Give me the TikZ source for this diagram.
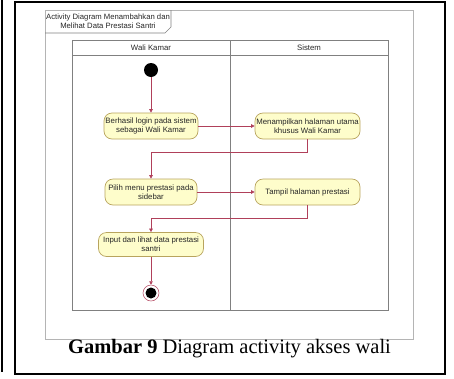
\documentclass[tikz,border=0pt]{standalone}
\usepackage{fontspec}
\setmainfont{Liberation Serif}
\newfontfamily\diagfont{Liberation Sans}
\usetikzlibrary{arrows.meta}

\definecolor{actfill}{HTML}{FEFDCB}
\definecolor{actline}{HTML}{B8A45E}
\definecolor{flowred}{HTML}{B0405A}
\definecolor{laneline}{HTML}{808080}
\definecolor{frameline}{HTML}{B4B4B4}

\tikzset{
  action/.style={draw=actline, fill=actfill, rounded corners=8pt, line width=0.7pt,
    minimum height=26pt, inner sep=1pt, align=center, text=black!85,
    font=\diagfont\fontsize{7.8}{8.6}\selectfont},
  flow/.style={draw=flowred, line width=0.6pt, -{Triangle[length=3.5pt,width=3.5pt]}},
  lane/.style={draw=laneline, line width=0.6pt},
  lanehead/.style={font=\diagfont\fontsize{7.8}{9}\selectfont, text=black!85},
  startnode/.style={circle, fill=black, minimum size=14pt, inner sep=0pt},
}

\begin{document}
\begin{tikzpicture}[x=1pt,y=-1pt]
  \useasboundingbox (0,0) rectangle (454,378);

  % page rules
  \draw[line width=1.8pt] (2,0) -- (2,372);
  \draw[line width=2pt] (15,1.5) rectangle (444.5,374);

  % diagram frame with its name tab
  \draw[frameline, line width=0.7pt] (45,10) rectangle (413,339);
  \draw[laneline, line width=0.6pt] (45,33) -- (165,33) -- (171,27) -- (171,10);
  \node[font=\diagfont\fontsize{7.7}{8.6}\selectfont, align=center, inner sep=0pt, text=black!85]
    (title) at (108,21.5) {Activity Diagram Menambahkan dan\\Melihat Data Prestasi Santri};

  % swimlanes
  \draw[lane] (72,40) rectangle (388,310);
  \draw[lane] (72,55) -- (388,55);
  \draw[lane] (230,40) -- (230,310);
  \node[lanehead] (laneA) at (151,47.5) {Wali Kamar};
  \node[lanehead] (laneB) at (309,47.5) {Sistem};

  % activity nodes
  \node[startnode] (start) at (151,70) {};
  \node[action, minimum width=94pt] (a1) at (151,126) {Berhasil login pada sistem\\sebagai Wali Kamar};
  \node[action, minimum width=105pt] (a2) at (307.5,126) {Menampilkan halaman utama\\khusus Wali Kamar};
  \node[action, minimum width=92pt] (a3) at (151,192) {Pilih menu prestasi pada\\sidebar};
  \node[action, minimum width=105pt] (a4) at (307.5,192) {Tampil halaman prestasi};
  \node[action, minimum width=105pt, minimum height=24pt] (a5) at (151,244.5) {Input dan lihat data prestasi\\santri};
  \node[circle, draw=flowred, line width=0.5pt, fill=white, minimum size=16pt, inner sep=0pt] (end) at (151,293) {};
  \node[circle, fill=black, minimum size=11pt, inner sep=0pt] (endcore) at (end) {};

  % control flows
  \draw[flow] (start) -- (a1);
  \draw[flow] (a1.east) -- (a2.west);
  \draw[flow] (a2.south) -- ++(0,13) -| (a3.north);
  \draw[flow] (a3.east) -- (a4.west);
  \draw[flow] (a4.south) -- ++(0,13) -| (a5.north);
  \draw[flow] (a5) -- (end);

  % caption
  \node[font=\fontsize{20.5}{24}\selectfont, inner sep=0pt] (caption) at (229.5,349)
    {\textbf{Gambar 9} Diagram activity akses wali};
\end{tikzpicture}
\end{document}
